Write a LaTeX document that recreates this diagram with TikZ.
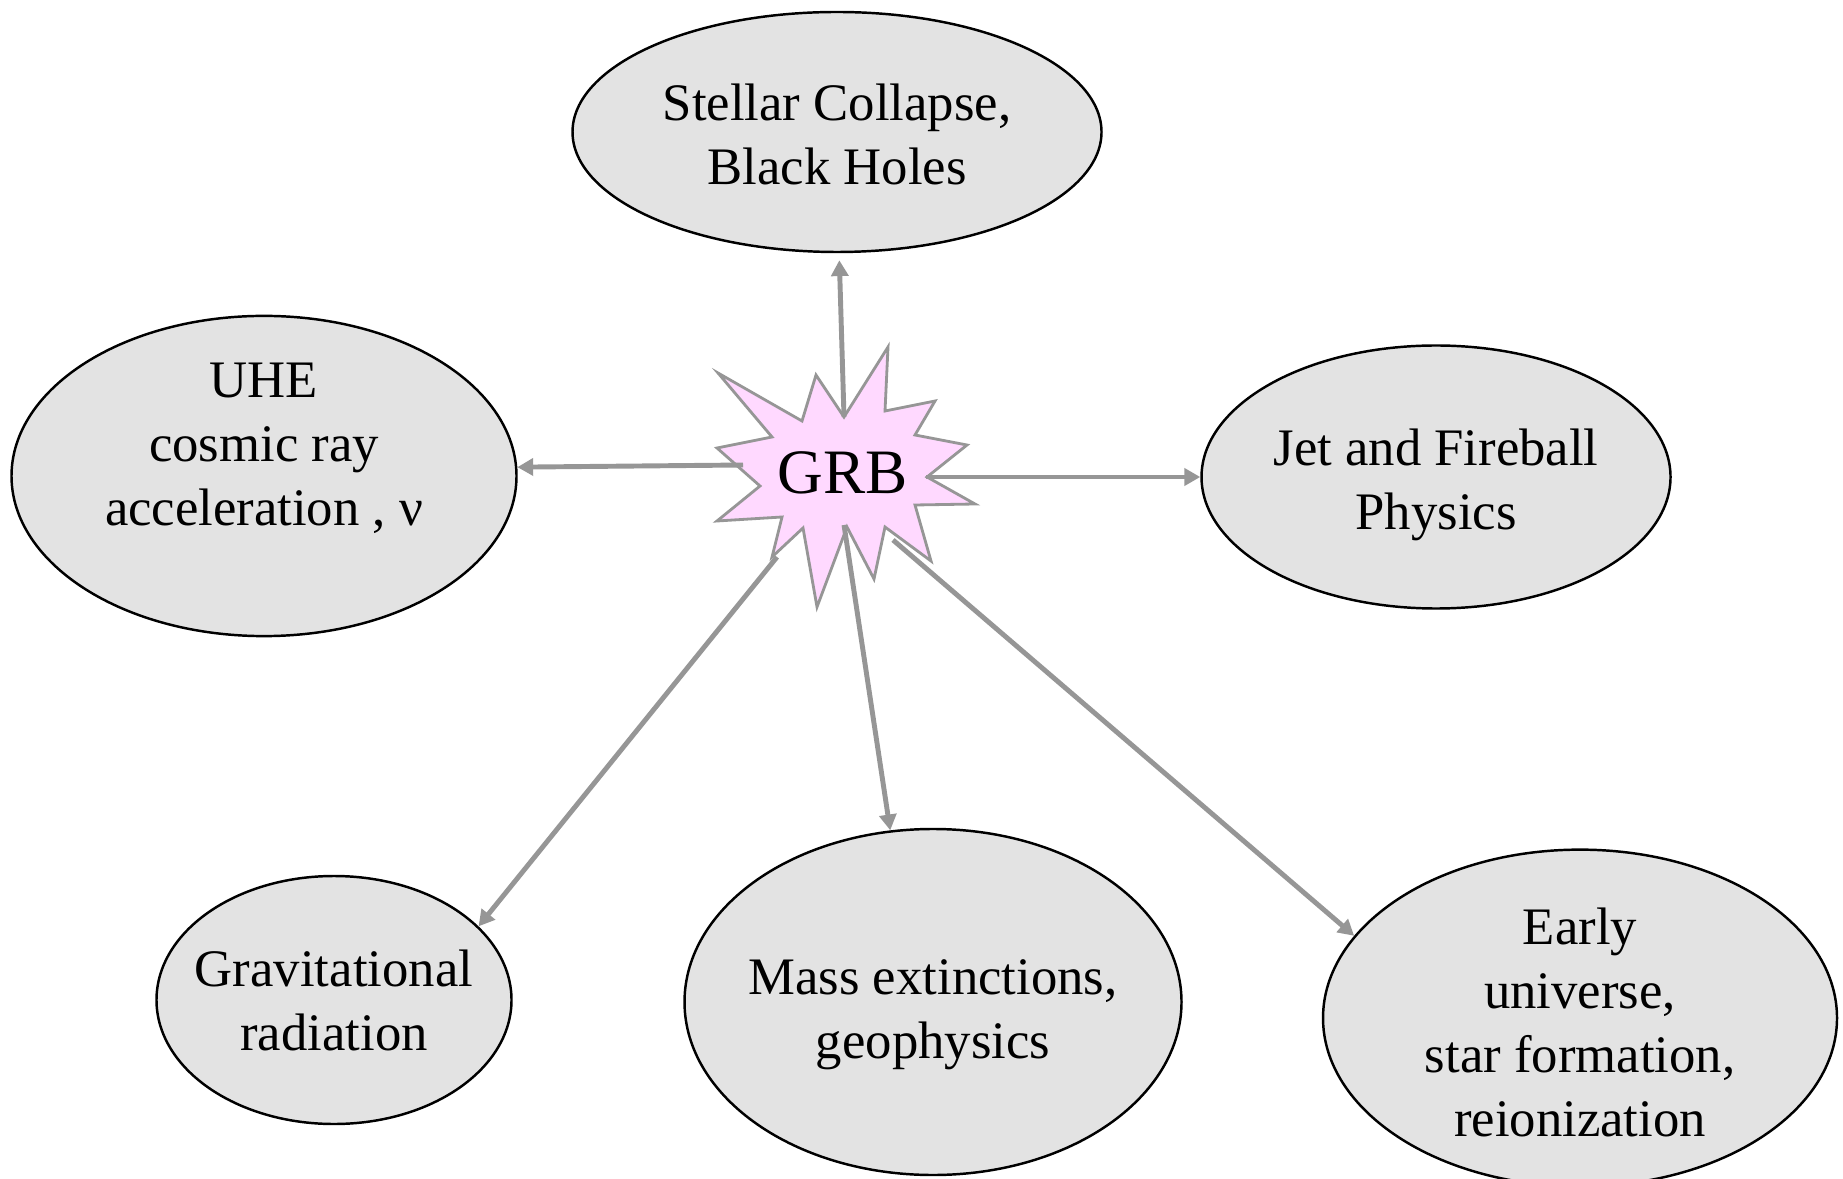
\documentclass[tikz,border=0pt]{standalone}
\usepackage{fontspec}
\setmainfont{Liberation Serif}
\usetikzlibrary{shapes.geometric,arrows.meta}
\definecolor{ovalgray}{HTML}{E3E3E3}
\definecolor{raygray}{HTML}{969696}
\definecolor{burstpink}{HTML}{FFD9FF}

\begin{document}
\begin{tikzpicture}
\tikzstyle{every node}+=[inner sep=0pt]
\tikzstyle{topic}=[ellipse, draw=black, line width=0.7pt, fill=ovalgray, align=center, font=\fontsize{15}{18.2}\selectfont]
\tikzstyle{ray}=[draw=raygray, line width=1.4pt, -{Triangle[length=4.5pt,width=4.8pt]}]
\useasboundingbox (0,0) rectangle (18.43,-11.79);
% the six topics
\node [topic, minimum width=5.29cm, minimum height=2.40cm] (stellar) at (8.37,-1.32) {\rule{0pt}{12pt}Stellar Collapse,\\Black Holes};
\node [topic, minimum width=5.05cm, minimum height=3.18cm] (uhe) at (2.64,-4.76) {UHE\\cosmic ray\\acceleration , ν\\\mbox{}};
\node [topic, minimum width=4.69cm, minimum height=2.63cm] (jet) at (14.36,-4.77) {\rule{0pt}{15pt}Jet and Fireball\\Physics};
\node [topic, inner xsep=-8pt, minimum width=3.55cm, minimum height=2.48cm] (grav) at (3.34,-10.00) {Gravitational\\radiation};
\node [topic, inner xsep=-8pt, minimum width=4.97cm, minimum height=3.46cm] (mass) at (9.33,-10.02) {\rule{0pt}{17pt}Mass extinctions,\\geophysics};
\node [topic, minimum width=5.14cm, minimum height=2.91cm] (early) at (15.80,-10.18) {\rule{0pt}{13pt}Early\\universe,\\star formation,\\reionization};
% the burst
\filldraw [fill=burstpink, draw=raygray, line width=0.8pt] (7.18,-3.73) -- (8.02,-4.21) -- (8.16,-3.75) -- (8.44,-4.17) -- (8.88,-3.47) -- (8.85,-4.11) -- (9.35,-4.01) -- (9.15,-4.35) -- (9.67,-4.45) -- (9.27,-4.77) -- (9.75,-5.04) -- (9.15,-5.05) -- (9.31,-5.61) -- (8.85,-5.27) -- (8.74,-5.79) -- (8.47,-5.27) -- (8.17,-6.07) -- (8.03,-5.28) -- (7.72,-5.57) -- (7.82,-5.17) -- (7.17,-5.21) -- (7.60,-4.86) -- (7.17,-4.48) -- (7.72,-4.37) -- cycle;
\coordinate (rayN) at (8.44,-4.17);
\coordinate (rayW) at (7.43,-4.65);
\coordinate (rayE) at (9.26,-4.77);
\coordinate (raySW) at (7.77,-5.57);
\coordinate (rayS) at (8.44,-5.25);
\coordinate (raySE) at (8.93,-5.40);
% rays
\draw [ray, shorten >=2pt] (rayN) -- (stellar.-89);
\draw [ray] (rayW) -- (uhe.2.5);
\draw [ray] (rayE) -- (jet.west);
\draw [ray] (raySW) -- (grav.27);
\draw [ray] (rayS) -- (mass.104);
\draw [ray] (raySE) -- (early.160);
\node (grb) at (8.43,-4.73) {\fontsize{18}{22}\selectfont GRB};
\end{tikzpicture}
\end{document}
